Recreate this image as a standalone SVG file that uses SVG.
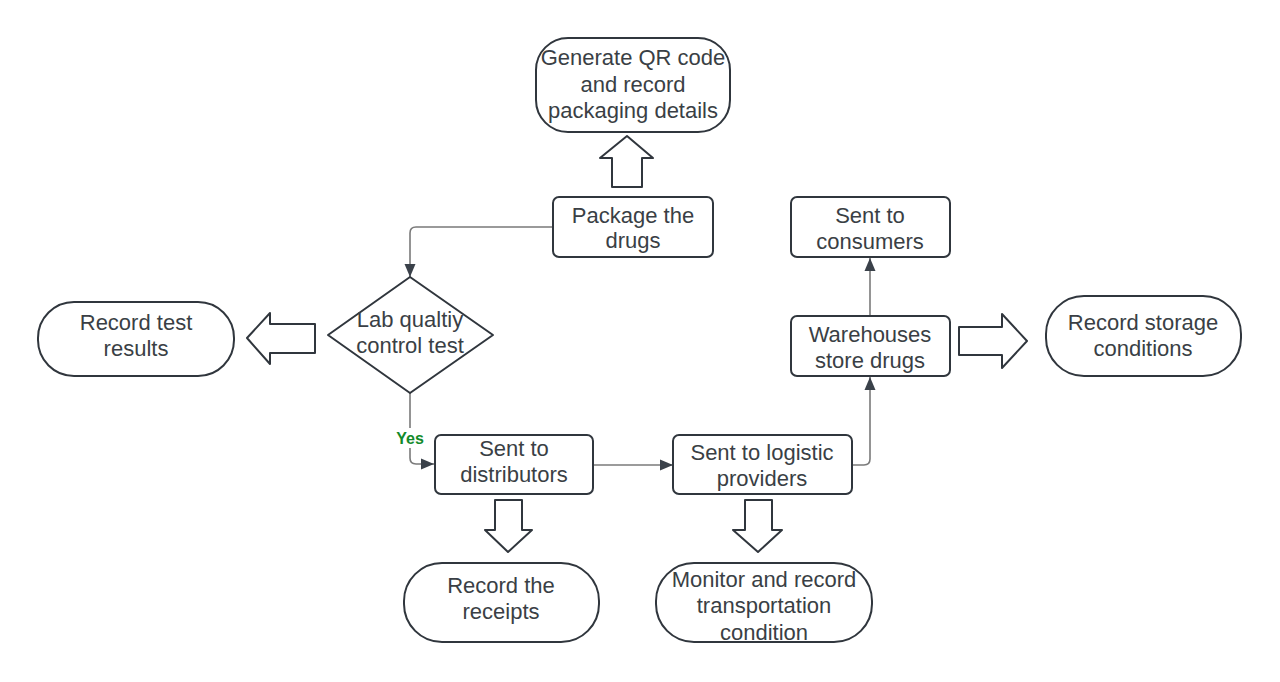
<svg xmlns="http://www.w3.org/2000/svg" width="1280" height="682" viewBox="0 0 1280 682">
<defs>
<marker id="ah" markerUnits="userSpaceOnUse" markerWidth="14" markerHeight="12" refX="13" refY="6" orient="auto">
<path d="M0,0.5 L13,6 L0,11.5 Z" fill="#3a414a"/>
</marker>
</defs>
<style>
.box{fill:#fff;stroke:#30363d;stroke-width:2}
.blk{fill:#fff;stroke:#30363d;stroke-width:2;stroke-linejoin:round}
.t{font-family:"Liberation Sans",Arial,sans-serif;font-size:22px;fill:#3a3f45;text-anchor:middle}
.c{fill:none;stroke:#7a7a7a;stroke-width:1.6}
.yes{font-family:"Liberation Sans",Arial,sans-serif;font-size:16px;font-weight:bold;fill:#128a2a;text-anchor:middle}
</style>
<rect width="1280" height="682" fill="#fff"/>
<g id="connectors">
<path class="c" d="M553,227 H416 Q410,227 410,233 V277" marker-end="url(#ah)"/>
<path class="c" d="M410,393 V458 Q410,464 416,464 H434" marker-end="url(#ah)"/>
<path class="c" d="M593,465 H673" marker-end="url(#ah)"/>
<path class="c" d="M852,465 H864 Q870,465 870,459 V377" marker-end="url(#ah)"/>
<path class="c" d="M870,316 V258" marker-end="url(#ah)"/>
<rect x="396" y="428" width="29" height="20" fill="#fff"/>
<text class="yes" x="410" y="444">Yes</text>
</g>
<g id="qr">
<rect class="box" x="536" y="38" width="194" height="94" rx="32"/>
<text class="t" x="633" y="65">Generate QR code</text>
<text class="t" x="633" y="92">and record</text>
<text class="t" x="633" y="118">packaging details</text>
</g>
<g id="arrow-up">
<polygon class="blk" points="627,136 653,158 642,158 642,187 612,187 612,158 600,158"/>
</g>
<g id="package">
<rect class="box" x="553" y="197" width="160" height="60" rx="6"/>
<text class="t" x="633" y="223">Package the</text>
<text class="t" x="633" y="248">drugs</text>
</g>
<g id="labtest">
<polygon class="box" points="410,277 493,335 410,393 328,335" stroke-linejoin="round"/>
<text class="t" x="410" y="327">Lab qualtiy</text>
<text class="t" x="410" y="353">control test</text>
</g>
<g id="arrow-left">
<polygon class="blk" points="247,338 270,313 270,324 315,324 315,353 270,353 270,364"/>
</g>
<g id="testresults">
<rect class="box" x="38" y="302" width="196" height="74" rx="36"/>
<text class="t" x="136" y="330">Record test</text>
<text class="t" x="136" y="356">results</text>
</g>
<g id="distributors">
<rect class="box" x="435" y="435" width="158" height="59" rx="6"/>
<text class="t" x="514" y="456">Sent to</text>
<text class="t" x="514" y="482">distributors</text>
</g>
<g id="arrow-down1">
<polygon class="blk" points="495,500 522,500 522,530 532,530 508,552 485,530 495,530"/>
</g>
<g id="receipts">
<rect class="box" x="404" y="563" width="195" height="79" rx="38"/>
<text class="t" x="501" y="593">Record the</text>
<text class="t" x="501" y="619">receipts</text>
</g>
<g id="logistic">
<rect class="box" x="673" y="435" width="179" height="59" rx="6"/>
<text class="t" x="762" y="460">Sent to logistic</text>
<text class="t" x="762" y="486">providers</text>
</g>
<g id="arrow-down2">
<polygon class="blk" points="745,500 772,500 772,530 782,530 758,552 733,530 745,530"/>
</g>
<g id="monitor">
<rect class="box" x="656" y="563" width="216" height="79" rx="38"/>
<text class="t" x="764" y="587">Monitor and record</text>
<text class="t" x="764" y="613">transportation</text>
<text class="t" x="764" y="640">condition</text>
</g>
<g id="consumers">
<rect class="box" x="791" y="197" width="159" height="60" rx="6"/>
<text class="t" x="870" y="223">Sent to</text>
<text class="t" x="870" y="249">consumers</text>
</g>
<g id="warehouses">
<rect class="box" x="791" y="316" width="159" height="60" rx="6"/>
<text class="t" x="870" y="342">Warehouses</text>
<text class="t" x="870" y="368">store drugs</text>
</g>
<g id="arrow-right">
<polygon class="blk" points="959,327 1002,327 1002,314 1027,341 1002,368 1002,355 959,355"/>
</g>
<g id="storage">
<rect class="box" x="1046" y="296" width="195" height="80" rx="38"/>
<text class="t" x="1143" y="330">Record storage</text>
<text class="t" x="1143" y="356">conditions</text>
</g>
</svg>
